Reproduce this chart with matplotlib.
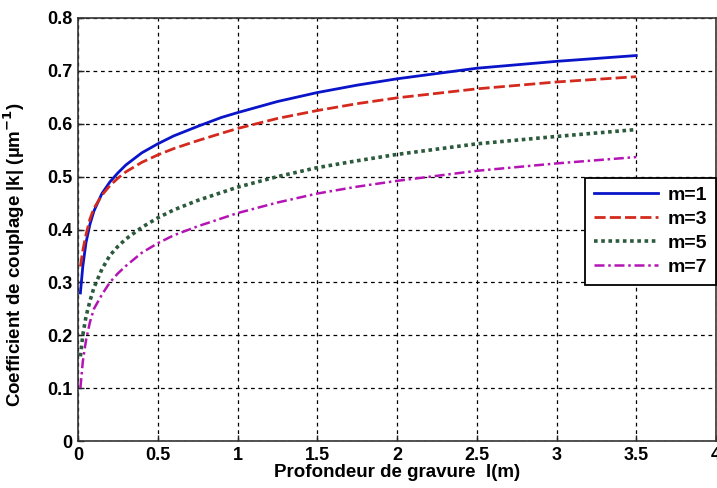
import matplotlib
matplotlib.use("Agg")
import matplotlib.pyplot as plt

# depth l (m) and coupling coefficient |k|
depth = [0.015, 0.03, 0.05, 0.075, 0.1, 0.15, 0.2, 0.25, 0.3, 0.4, 0.5, 0.6, 0.75, 0.9, 1.0,
         1.25, 1.5, 1.75, 2.0, 2.5, 3.0, 3.5]
k_m1 = [0.28, 0.33, 0.375, 0.41, 0.435, 0.468, 0.49, 0.507, 0.522, 0.545, 0.562, 0.577, 0.595,
        0.612, 0.621, 0.642, 0.659, 0.673, 0.685, 0.705, 0.718, 0.729]
k_m3 = [0.33, 0.36, 0.39, 0.42, 0.44, 0.465, 0.483, 0.497, 0.509, 0.527, 0.541, 0.553, 0.568,
        0.582, 0.591, 0.61, 0.625, 0.638, 0.649, 0.666, 0.679, 0.689]
k_m5 = [0.16, 0.2, 0.235, 0.265, 0.29, 0.325, 0.351, 0.368, 0.382, 0.404, 0.422, 0.437, 0.455,
        0.47, 0.48, 0.5, 0.517, 0.53, 0.542, 0.562, 0.576, 0.589]
k_m7 = [0.1, 0.15, 0.19, 0.225, 0.25, 0.277, 0.3, 0.317, 0.331, 0.356, 0.374, 0.389, 0.406,
        0.421, 0.431, 0.451, 0.468, 0.481, 0.492, 0.511, 0.525, 0.537]
labels = ["m=1", "m=3", "m=5", "m=7"]
xticks = [0, 0.5, 1, 1.5, 2, 2.5, 3, 3.5, 4]
yticks = [0, 0.1, 0.2, 0.3, 0.4, 0.5, 0.6, 0.7, 0.8]

plt.rcParams['font.family'] = ['Liberation Sans', 'DejaVu Sans']
plt.rcParams['font.weight'] = 'bold'
plt.rcParams['mathtext.default'] = 'bf'

fig = plt.figure(figsize=(7.17, 4.88), dpi=100)
ax = fig.add_axes([78 / 717, 47 / 488, 638 / 717, 423 / 488])

ax.plot(depth, k_m1, color='#0a14c8', linestyle='-', linewidth=2, label=labels[0])
ax.plot(depth, k_m3, color='#d42a1e', linestyle=(0, (4, 1.5)), linewidth=2, label=labels[1])
ax.plot(depth, k_m5, color='#2c5a3c', linestyle=(0, (1, 1)), linewidth=2.6, label=labels[2])
ax.plot(depth, k_m7, color='#b414b4', linestyle=(0, (4, 1.5, 1, 1.5)), linewidth=1.8, label=labels[3])

ax.set_xlim(0, 4)
ax.set_ylim(0, 0.8)
ax.set_xticks(xticks)
ax.set_xticklabels([f"{t:g}" for t in xticks])
ax.set_yticks(yticks)
ax.set_yticklabels([f"{t:g}" for t in yticks])
ax.tick_params(direction='in', labelsize=13, length=4, width=1, colors='#222222', pad=4)
for lab in ax.get_xticklabels() + ax.get_yticklabels():
    lab.set_color('black')
    lab.set_fontweight('bold')

ax.grid(True, color='black', linestyle=(0, (3, 3)), linewidth=0.9)
for s in ax.spines.values():
    s.set_color('#333333')
    s.set_linewidth(1.2)

ax.set_xlabel('Profondeur de gravure  l(m)', fontsize=13.5, fontweight='bold', labelpad=0)
ax.set_ylabel('Coefficient de couplage |k| (µm$^{-1}$)', fontsize=13.5, fontweight='bold')
ax.yaxis.set_label_coords(-0.08, 0.44)

leg = ax.legend(loc='upper right', bbox_to_anchor=(1.0, 0.622), borderaxespad=0,
                fancybox=False, framealpha=1, edgecolor='black', fontsize=14,
                handlelength=3.3, labelspacing=0.32, borderpad=0.45, handletextpad=0.5)
leg.get_frame().set_linewidth(1.3)

fig.savefig('out.png', dpi=100, facecolor='white')
